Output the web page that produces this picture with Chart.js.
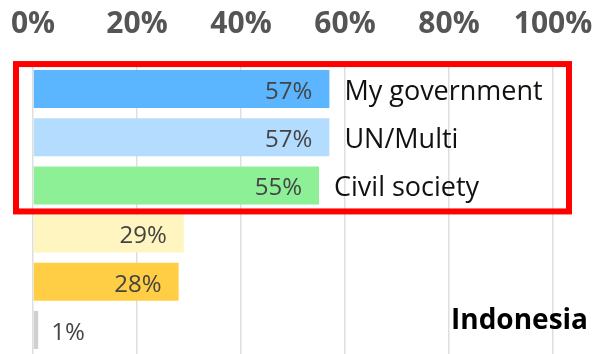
<!DOCTYPE html>
<html>
<head>
<meta charset="utf-8">
<script src="https://cdn.jsdelivr.net/npm/chart.js@4/dist/chart.umd.min.js"></script>
<style>
  html, body { margin: 0; padding: 0; background: #fff; }
  #wrap { width: 592px; height: 354px; }
</style>
</head>
<body>
<div id="wrap"><canvas id="chart" width="592" height="354"></canvas></div>
<script>
'use strict'

var categories = ['My government', 'UN/Multi', 'Civil society', '', '', ''];
var values = [57, 57, 55, 29, 28, 1];
var barColors = ['#5bb6ff', '#b3dcff', '#8def96', '#fff5c0', '#ffce44', '#d0d0d0'];
var xTicks = [0, 20, 40, 60, 80, 100];
var countryName = 'Indonesia';
var highlightCount = 3;

var FONT = '"Open Sans", "Noto Sans", sans-serif';

// value inside the bar end (or just after it for tiny bars), name after the bar
var barLabels = {
  id: 'barLabels',
  afterDraw: function (chart) {
    var ctx = chart.ctx;
    var area = chart.chartArea;
    var bars = chart.getDatasetMeta(0).data;
    ctx.save();
    ctx.textBaseline = 'middle';
    bars.forEach(function (bar, i) {
      var text = values[i] + '%';
      ctx.font = '24px ' + FONT;
      ctx.fillStyle = '#444';
      if (values[i] >= 5) {
        ctx.textAlign = 'right';
        ctx.fillText(text, bar.x - 17, bar.y + 3);
      } else {
        ctx.textAlign = 'left';
        ctx.fillText(text, bar.x + 13, bar.y + 3);
      }
      if (categories[i]) {
        ctx.font = '27px ' + FONT;
        ctx.fillStyle = '#111';
        ctx.textAlign = 'left';
        ctx.fillText(categories[i], bar.x + 15, bar.y + 3);
      }
    });

    // red frame round the first group of bars
    var first = bars[0], last = bars[highlightCount - 1];
    ctx.strokeStyle = '#ff0000';
    ctx.lineWidth = 6;
    var top = first.y - first.height / 2 - 6;
    var bottom = last.y + last.height / 2 + 7;
    ctx.strokeRect(area.left - 17, top, area.right - area.left + 33, bottom - top);

    // country name, bottom right
    ctx.font = 'bold 28px ' + FONT;
    ctx.fillStyle = '#000';
    ctx.textAlign = 'right';
    ctx.textBaseline = 'alphabetic';
    ctx.fillText(countryName, chart.width - 4, area.bottom - 25);
    ctx.restore();
  }
};

new Chart(document.getElementById('chart').getContext('2d'), {
  type: 'bar',
  data: {
    labels: categories,
    datasets: [{
      data: values,
      backgroundColor: barColors,
      borderWidth: 0,
      categoryPercentage: 1,
      barPercentage: 0.79
    }]
  },
  options: {
    indexAxis: 'y',
    responsive: false,
    animation: false,
    layout: { padding: { left: 33, right: 39, top: 0, bottom: 0 } },
    plugins: {
      legend: { display: false },
      tooltip: { enabled: false }
    },
    scales: {
      x: {
        position: 'top',
        min: 0,
        max: 100,
        z: 1,
        afterBuildTicks: function (axis) {
          axis.ticks = xTicks.map(function (v) { return { value: v }; });
        },
        afterFit: function (axis) {
          axis.height = 65;
          axis.paddingLeft = 0;
          axis.paddingRight = 0;
        },
        ticks: {
          callback: function (v) { return v + '%'; },
          font: { family: FONT, size: 30, weight: 'bold' },
          color: '#555',
          padding: 23
        },
        grid: { color: 'rgba(0,0,0,0.13)', lineWidth: 1.5, drawTicks: false },
        border: { display: false }
      },
      y: { display: false }
    }
  },
  plugins: [barLabels]
});
</script>
</body>
</html>
